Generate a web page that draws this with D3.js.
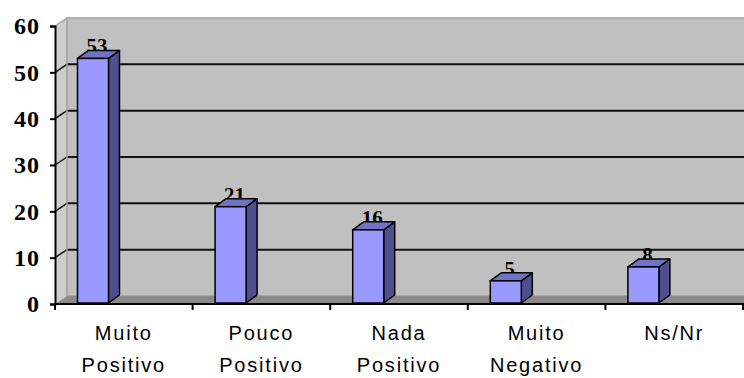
<!DOCTYPE html>
<html>
<head>
<meta charset="utf-8">
<script src="https://cdn.jsdelivr.net/npm/d3@7/dist/d3.min.js"></script>
<style>
  html, body { margin: 0; padding: 0; background: #fff; }
  svg { display: block; }
</style>
</head>
<body>
<svg id="chart" width="744" height="378"></svg>
<script>
// Opinion survey results (percent)
const categories = ["Muito Positivo", "Pouco Positivo", "Nada Positivo", "Muito Negativo", "Ns/Nr"];
const values = [53, 21, 16, 5, 8];
const yTicks = [0, 10, 20, 30, 40, 50, 60];

const W = 744, H = 378;
const svg = d3.select("#chart");

// pseudo-3D depth offset of the back plane
const depthX = 12, depthY = -8;
const barDX = 11, barDY = -8;

const x = d3.scaleBand().domain(categories).range([55, 743]).paddingInner(0).paddingOuter(0);
const y = d3.scaleLinear().domain([0, 60]).range([304, 26]);

const x0 = x.range()[0], x1 = x.range()[1];
const yTop = y(60), yBase = y(0);

// side wall (left)
svg.append("path")
  .attr("d", `M${x0},${yBase} L${x0},${yTop} L${x0 + depthX},${yTop + depthY} L${x0 + depthX},${yBase + depthY} Z`)
  .attr("fill", "#cdcdcd");

// back wall
svg.append("rect")
  .attr("x", x0 + depthX).attr("y", yTop + depthY)
  .attr("width", W - (x0 + depthX) + 5).attr("height", yBase - yTop)
  .attr("fill", "#c0c0c0")
  .attr("stroke", "#a0a0a0").attr("stroke-width", 1.5);

// floor
svg.append("path")
  .attr("d", `M${x0},${yBase} L${x0 + depthX},${yBase + depthY} L${W + 20},${yBase + depthY} L${W + 20},${yBase} Z`)
  .attr("fill", "#8a8a8a");

// gridlines on the back wall and their continuation on the side wall
const grid = yTicks.filter(v => v > 0 && v < 60);
svg.selectAll(".grid").data(grid).enter().append("line")
  .attr("x1", x0 + depthX).attr("x2", W + 5)
  .attr("y1", d => y(d) + depthY).attr("y2", d => y(d) + depthY)
  .attr("stroke", "#111").attr("stroke-width", 2);
svg.selectAll(".gridSide").data(grid).enter().append("line")
  .attr("x1", x0).attr("x2", x0 + depthX)
  .attr("y1", d => y(d)).attr("y2", d => y(d) + depthY)
  .attr("stroke", "#111").attr("stroke-width", 1.5);
svg.append("line")
  .attr("x1", x0).attr("x2", x0 + depthX)
  .attr("y1", yTop).attr("y2", yTop + depthY)
  .attr("stroke", "#a0a0a0").attr("stroke-width", 1.5);
svg.append("line")
  .attr("x1", x0 + depthX).attr("x2", x0 + depthX)
  .attr("y1", yTop + depthY).attr("y2", yBase + depthY)
  .attr("stroke", "#a8a8a8").attr("stroke-width", 1.5);

// bars
const barOffset = 22.5, barW = 31;
const data = categories.map((c, i) => ({ c, v: values[i] }));

const g = svg.append("g");
data.forEach(d => {
  const bx = x(d.c) + barOffset;
  const bt = y(d.v);
  const bb = yBase - 1;
  // value label, partly hidden behind the bar top
  g.append("text")
    .attr("x", bx + barW / 2 + 4)
    .attr("y", bt - 5)
    .attr("text-anchor", "middle")
    .attr("font-family", "'Liberation Serif', 'Times New Roman', serif")
    .attr("font-weight", "bold")
    .attr("font-size", 21)
    .attr("fill", "#000")
    .text(d.v);
  // side face
  g.append("path")
    .attr("d", `M${bx + barW},${bt} L${bx + barW + barDX},${bt + barDY} L${bx + barW + barDX},${bb + barDY} L${bx + barW},${bb} Z`)
    .attr("fill", "#4f4f8f").attr("stroke", "#000").attr("stroke-width", 1.5).attr("stroke-linejoin", "round");
  // top face
  g.append("path")
    .attr("d", `M${bx},${bt} L${bx + barDX},${bt + barDY} L${bx + barW + barDX},${bt + barDY} L${bx + barW},${bt} Z`)
    .attr("fill", "#7373c6").attr("stroke", "#000").attr("stroke-width", 1.5).attr("stroke-linejoin", "round");
  // front face
  g.append("rect")
    .attr("x", bx).attr("y", bt).attr("width", barW).attr("height", bb - bt)
    .attr("fill", "#9999ff").attr("stroke", "#000").attr("stroke-width", 1.5);
});

// value axis
const yAxis = d3.axisLeft(y).tickValues(yTicks).tickSize(5).tickPadding(10).tickFormat(d3.format("d"));
const ya = svg.append("g").attr("transform", `translate(${x0},0)`).call(yAxis);
ya.select(".domain").attr("stroke", "#000").attr("stroke-width", 2);
ya.selectAll(".tick line").attr("stroke", "#000").attr("stroke-width", 2);
ya.selectAll(".tick text")
  .attr("font-family", "'Liberation Serif', 'Times New Roman', serif")
  .attr("font-weight", "bold")
  .attr("font-size", 24)
  .attr("letter-spacing", 1)
  .attr("fill", "#000");

// category axis
svg.append("line")
  .attr("x1", x0).attr("x2", W)
  .attr("y1", yBase).attr("y2", yBase)
  .attr("stroke", "#000").attr("stroke-width", 2);
const bounds = categories.map(c => x(c)).concat([x1]);
svg.selectAll(".xtick").data(bounds).enter().append("line")
  .attr("x1", d => d).attr("x2", d => d)
  .attr("y1", yBase).attr("y2", yBase + 6)
  .attr("stroke", "#000").attr("stroke-width", 2);

const labels = svg.selectAll(".xlabel").data(categories).enter().append("text")
  .attr("text-anchor", "middle")
  .attr("font-family", "'Liberation Sans', Arial, sans-serif")
  .attr("font-size", 20)
  .attr("letter-spacing", 1.8)
  .attr("fill", "#000");
labels.each(function(c) {
  const words = c.includes(" ") ? c.split(" ") : [c];
  const t = d3.select(this);
  words.forEach((w, i) => {
    t.append("tspan")
      .attr("x", x(c) + x.bandwidth() / 2)
      .attr("y", 340 + i * 32)
      .text(w);
  });
});
</script>
</body>
</html>
